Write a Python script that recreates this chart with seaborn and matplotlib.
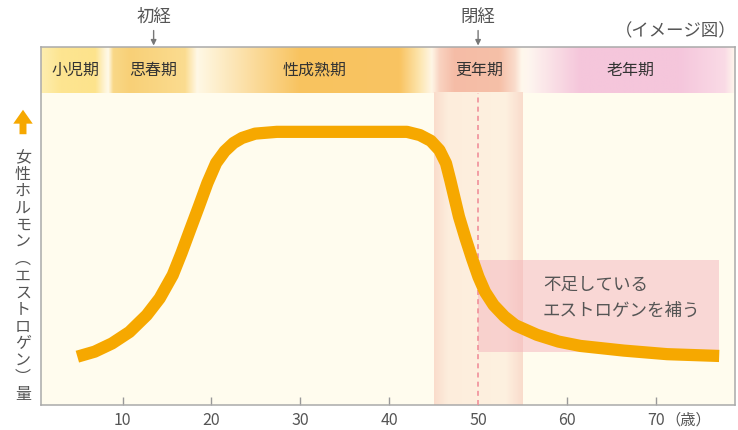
import numpy as np
import pandas as pd
import matplotlib
matplotlib.use("Agg")
import matplotlib.pyplot as plt
import matplotlib.colors as mcolors
import seaborn as sns

# ---- data -------------------------------------------------------------
ages = [4.92, 6.87, 8.82, 10.78, 12.72, 14.18, 15.65, 16.63, 17.6, 18.58,
        19.55, 20.53, 21.5, 22.49, 23.45, 24.92, 27.36,
        42.0, 43.45, 44.68, 45.65, 46.39, 46.87, 47.36, 47.85, 48.58, 49.31,
        50.04, 50.78, 51.75, 52.97, 54.18, 56.63, 59.07, 61.51, 66.38, 71.26, 77.12]
hormone = [13.5, 14.9, 17.2, 20.4, 25.1, 29.8, 36.3, 42.4, 48.9, 55.4,
           62.0, 67.6, 70.9, 73.2, 74.6, 75.8, 76.3,
           76.3, 75.4, 73.8, 71.2, 67.5, 62.8, 57.7, 52.6, 46.6, 41.0,
           35.8, 31.6, 27.9, 24.7, 22.3, 19.6, 17.7, 16.5, 15.2, 14.2, 13.7]

tick_ages = [10, 20, 30, 40, 50, 60, 70]
tick_labels = ["10", "20", "30", "40", "50", "60", "70"]

stage_names = ["小児期", "思春期", "性成熟期", "更年期", "老年期"]
stage_centers = [4.7, 13.4, 31.6, 50.1, 67.1]

menarche_age = 13.5
menopause_age = 50
menopause_span = (45, 55)
supplement_box = (50, 77.1, 14.8, 40.5)   # x0, x1, y0, y1
y_label_chars = list("女性ホルモン︵エストロゲン︶量")

# ---- styling ----------------------------------------------------------
sns.set_theme(style="white")
plt.rcParams["font.family"] = ["Noto Sans CJK JP", "DejaVu Sans"]

XMIN, XMAX = 0.83, 78.9
YMIN, YMAX = 0, 100
HEADER_Y0 = 87.2
TEXT = "#555555"

fig = plt.figure(figsize=(7.38, 4.30), dpi=100)
ax = fig.add_axes([41 / 738, 25 / 430, 694 / 738, 358 / 430])
ax.set_xlim(XMIN, XMAX)
ax.set_ylim(YMIN, YMAX)
ax.set_facecolor("#fffcee")


def gradient_image(stops, x0, x1, n=900):
    xs = np.linspace(x0, x1, n)
    pos = [s[0] for s in stops]
    cols = np.array([mcolors.to_rgb(s[1]) for s in stops])
    rgb = np.stack([np.interp(xs, pos, cols[:, k]) for k in range(3)], axis=-1)
    return rgb[np.newaxis, :, :]


# header band of life stages
header_stops = [
    (0.83, "#fdeeb0"), (2.97, "#fde591"), (6.9, "#fde38c"), (7.92, "#fef3d2"),
    (8.37, "#fffaea"), (8.93, "#f9d888"), (10.84, "#f8d077"), (17.03, "#fbdc90"),
    (18.38, "#fff8e6"), (19.84, "#fef2d5"), (29.97, "#f8c35f"), (41.2, "#f9c462"),
    (43.46, "#fde6b0"), (44.8, "#fff6e6"), (45.7, "#f9d2c0"), (47.4, "#f5bca6"),
    (52.46, "#f6c0a8"), (54.15, "#fadccc"), (54.94, "#fff8ec"), (55.8, "#fef5ef"),
    (61.5, "#f5c6db"), (72.7, "#f5c6dc"), (77.8, "#fadbe6"), (78.9, "#fff6ec"),
]
ax.imshow(gradient_image(header_stops, XMIN, XMAX), extent=[XMIN, XMAX, HEADER_Y0, YMAX],
          aspect="auto", interpolation="bilinear", zorder=1)

for name, cx in zip(stage_names, stage_centers):
    ax.text(cx, (HEADER_Y0 + YMAX) / 2, name, ha="center", va="center",
            fontsize=11.5, color="#333333", zorder=3)

# menopause transition column
band_stops = [(45.0, "#fadccb"), (46.5, "#fdeddc"), (53.0, "#fef1e0"),
              (54.3, "#fbe3d3"), (55.0, "#f9dccc")]
ax.imshow(gradient_image(band_stops, *menopause_span, n=300),
          extent=[menopause_span[0], menopause_span[1], YMIN, HEADER_Y0],
          aspect="auto", interpolation="bilinear", zorder=1)

# estrogen replacement box
bx0, bx1, by0, by1 = supplement_box
ax.add_patch(plt.Rectangle((bx0, by0), bx1 - bx0, by1 - by0,
                           facecolor="#f4b4be", alpha=0.5, edgecolor="none", zorder=2))
ax.text(57.3, 33.5, "不足している", ha="left", va="center", fontsize=12.6,
        color=TEXT, zorder=5)
ax.text(57.3, 26.3, "エストロゲンを補う", ha="left", va="center", fontsize=12.6,
        color=TEXT, zorder=5)

# menopause marker line
ax.plot([menopause_age, menopause_age], [YMIN, HEADER_Y0], color="#f0909a",
        lw=1.2, ls=(0, (3, 2.5)), zorder=3)

# hormone curve
df = pd.DataFrame({"age": ages, "hormone": hormone})
sns.lineplot(data=df, x="age", y="hormone", ax=ax, color="#f6a800", lw=8.8,
             sort=False, zorder=4)
for ln in ax.get_lines():
    ln.set_solid_capstyle("butt")
    ln.set_solid_joinstyle("round")

# axes frame and ticks
for side in ["left", "right", "top", "bottom"]:
    ax.spines[side].set_visible(True)
    ax.spines[side].set_color("#aaaaaa")
    ax.spines[side].set_linewidth(1.1)
ax.set_xticks(tick_ages)
ax.set_xticklabels(tick_labels)
ax.set_yticks([])
ax.tick_params(axis="x", direction="in", length=6, width=1, color="#999999",
               labelsize=11.5, labelcolor=TEXT, pad=5, bottom=True)
ax.set_xlabel("")
ax.set_ylabel("")
ax.text(71.1, -4.3, "（歳）", ha="left", va="center", fontsize=11,
        color=TEXT, clip_on=False)

# event markers above the chart
for label, age in [("初経", menarche_age), ("閉経", menopause_age)]:
    ax.annotate("", xy=(age, 100.4), xytext=(age, 104.6),
                arrowprops=dict(arrowstyle="-|>", color="#777777", lw=1,
                                mutation_scale=8, shrinkA=0, shrinkB=0),
                annotation_clip=False)
    ax.text(age, 108.4, label, ha="center", va="center", fontsize=12.5,
            color=TEXT, clip_on=False)

fig.text(737 / 738, 1 - 31 / 430, "（イメージ図）", ha="right", va="center",
         fontsize=12.5, color=TEXT)

# vertical y-axis label with upward arrow
fig.add_artist(matplotlib.patches.FancyArrowPatch(
    (23 / 738, 1 - 137 / 430), (23 / 738, 1 - 107 / 430),
    transform=fig.transFigure,
    arrowstyle="simple,head_width=1.4,head_length=1.0,tail_width=0.5",
    mutation_scale=10, color="#f6a800", lw=0))
for i, ch in enumerate(y_label_chars):
    fig.text(23 / 738, 1 - (158 + i * 16.9) / 430, ch, ha="center", va="center",
             fontsize=11.5, color=TEXT)

fig.savefig("out.png", dpi=100)
